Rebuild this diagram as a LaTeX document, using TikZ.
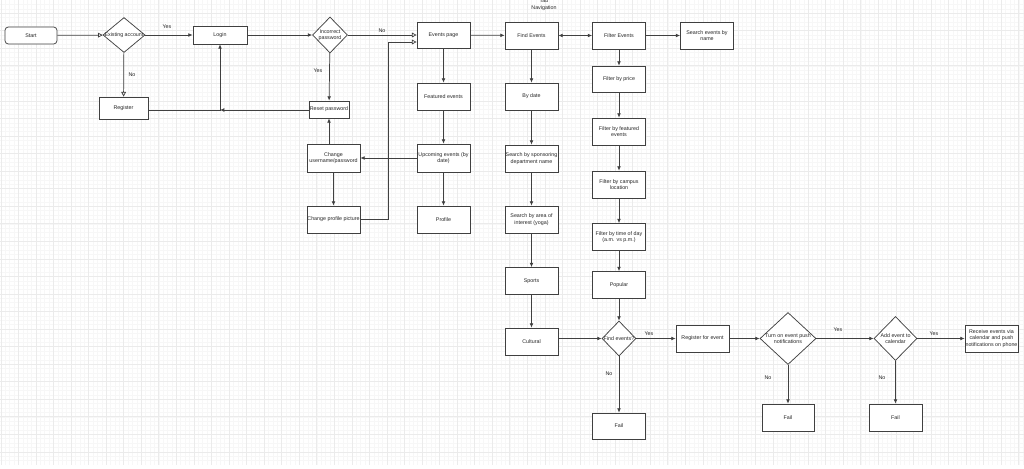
\documentclass[tikz,border=0pt]{standalone}
\usepackage{fontspec}
\setmainfont{Liberation Sans}
\usetikzlibrary{arrows.meta,shapes.geometric}
\begin{document}
\begin{tikzpicture}[x=0.75pt,y=-0.75pt,
  every node/.style={font=\fontsize{4}{4.9}\selectfont, text=black!85},
  box/.style={draw=black!75, line width=0.55pt, fill=white, rectangle, minimum width=39.75pt, minimum height=20.25pt, inner sep=0.5pt, align=center},
  dia/.style={draw=black!75, line width=0.55pt, fill=white, diamond, inner sep=0pt},
  lbl/.style={inner sep=0pt},
  arr/.style={draw=black!75, line width=0.55pt, -{Latex[length=3.2pt,width=2.8pt]}},
  oarr/.style={draw=black!75, line width=0.55pt, -{Triangle[open,length=3.5pt,width=3.5pt]}},
  darr/.style={draw=black!75, line width=0.55pt, {Latex[length=3.2pt,width=2.8pt]}-{Latex[length=3.2pt,width=2.8pt]}},
  minorgrid/.style={draw=gray!6, line width=0.3pt},
  majorgrid/.style={draw=gray!16, line width=0.4pt}
]
\useasboundingbox (0,0) rectangle (1024,468);
\fill[white] (0,0) rectangle (1024,468);
% grid
\foreach \k in {0,...,233} \draw[minorgrid] ({0.8+4.3875*\k},0) -- ({0.8+4.3875*\k},465);
\foreach \k in {0,...,104} \draw[minorgrid] (0,{4.325+4.3875*\k}) -- (1024,{4.325+4.3875*\k});
\foreach \k in {0,...,58} \draw[majorgrid] ({0.8+17.55*\k},0) -- ({0.8+17.55*\k},465);
\foreach \k in {0,...,25} \draw[majorgrid] (0,{13.1+17.55*\k}) -- (1024,{13.1+17.55*\k});

% nodes
\node[box, rounded corners=2.5pt, minimum width=39pt, minimum height=12.75pt] (start) at (31,35.5) {Start};
\node[dia, minimum width=31.5pt, minimum height=26.25pt, label={[align=center]center:Existing account}] (exist) at (124,35) {};
\node[box, minimum width=40.5pt, minimum height=13.5pt] (login) at (220,35) {Login};
\node[box, minimum width=36.75pt, minimum height=16.5pt] (register) at (123.5,108) {Register};
\node[dia, minimum width=26.25pt, minimum height=27pt, label={[align=center]center:{Incorrect\\password}}] (incorrect) at (330,35) {};
\node[box, minimum width=30pt, minimum height=12.75pt, inner sep=0pt] (reset) at (329,109.5) {Reset password};
\node[box, minimum height=19.5pt] (events) at (443.5,35) {Events page};
\node[box] (featured) at (443.5,96.5) {Featured events};
\node[box, minimum height=21pt] (upcoming) at (443.5,158) {Upcoming events (by\\date)};
\node[box] (profile) at (443.5,219.5) {Profile};
\node[box, minimum height=21pt] (changeuser) at (333.5,158) {Change\\username/password};
\node[box, inner sep=0pt] (changepic) at (333.5,219.5) {Change profile picture};
\node[lbl, align=center] (tabnav) at (544,4.5) {Tab\\Navigation};
\node[box] (find) at (531.5,35.5) {Find Events};
\node[box] (bydate) at (531.5,96.5) {By date};
\node[box] (sponsor) at (531.5,158.5) {Search by sponsoring\\department name};
\node[box] (interest) at (531.5,219.5) {Search by area of\\interest (yoga)};
\node[box] (sports) at (531.5,281) {Sports};
\node[box] (cultural) at (531.5,341.5) {Cultural};
\node[box] (filter) at (619,35.5) {Filter Events};
\node[box] (searchname) at (707,35.5) {Search events by\\name};
\node[box, minimum height=19.5pt] (price) at (619,79) {Filter by price};
\node[box] (featuredf) at (619,131.5) {Filter by featured\\events};
\node[box] (campus) at (619,184.5) {Filter by campus\\location};
\node[box] (timeday) at (619,237) {Filter by time of day\\(a.m. vs p.m.)};
\node[box] (popular) at (619,285) {Popular};
\node[dia, minimum width=25.5pt, minimum height=26.25pt, label={[align=center]center:Find events?}] (finddia) at (619,338.5) {};
\node[box, minimum height=19.5pt] (fail1) at (619,426) {Fail};
\node[box] (registerev) at (702.5,338.5) {Register for event};
\node[dia, minimum width=42pt, minimum height=39pt, label={[align=center]center:{Turn on event push\\notifications}}] (pushdia) at (788,338.5) {};
\node[box, minimum width=39pt] (fail2) at (788,417.5) {Fail};
\node[dia, minimum width=32.25pt, minimum height=33pt, label={[align=center]center:{Add event to\\calendar}}] (caldia) at (895.5,338.5) {};
\node[box] (fail3) at (895.5,417.5) {Fail};
\node[box, inner sep=0pt] (receive) at (991.5,338.5) {Receive events via\\calendar and push\\notifications on phone};

% labels
\node[lbl] (y1) at (167,27) {Yes};
\node[lbl] (n1) at (132,75) {No};
\node[lbl] (n2) at (382,31) {No};
\node[lbl] (y2) at (318,71) {Yes};
\node[lbl] (y3) at (649,334) {Yes};
\node[lbl] (n3) at (609,374) {No};
\node[lbl] (y4) at (838,330) {Yes};
\node[lbl] (y5) at (934,334) {Yes};
\node[lbl] (n4) at (768,378) {No};
\node[lbl] (n5) at (882,378) {No};

% connectors
\draw[oarr] (start) -- (exist);
\draw[arr] (exist) -- (login);
\draw[oarr] (exist) -- (register);
\draw[arr] (login) -- (incorrect);
\draw[oarr] (incorrect) -- (events);
\draw[arr] (incorrect) -- (reset);
\coordinate (j) at (220,110);
\draw[arr] (reset.west |- j) -- (j);
\draw[arr] (register.east |- j) -- (j) -- (login.south);
\draw[arr] (changeuser.north -| reset.south) -- (reset.south);
\draw[arr] (upcoming) -- (changeuser);
\draw[arr] (changeuser) -- (changepic);
\coordinate (k1) at (388,219.5);
\coordinate (k2) at (388,42);
\draw[oarr] (changepic.east) -- (k1) -- (k2) -- (events.west |- k2);
\draw[arr] (events) -- (featured);
\draw[arr] (featured) -- (upcoming);
\draw[arr] (upcoming) -- (profile);
\draw[arr] (events) -- (find);
\draw[darr] (find) -- (filter);
\draw[arr] (filter) -- (searchname);
\draw[arr] (find) -- (bydate);
\draw[arr] (bydate) -- (sponsor);
\draw[arr] (sponsor) -- (interest);
\draw[arr] (interest) -- (sports);
\draw[arr] (sports) -- (cultural);
\draw[arr] (filter) -- (price);
\draw[arr] (price) -- (featuredf);
\draw[arr] (featuredf) -- (campus);
\draw[arr] (campus) -- (timeday);
\draw[arr] (timeday) -- (popular);
\draw[arr] (popular) -- (finddia);
\draw[arr] (cultural.east |- finddia) -- (finddia.west);
\draw[arr] (finddia) -- (registerev);
\draw[arr] (finddia) -- (fail1);
\draw[arr] (registerev) -- (pushdia);
\draw[arr] (pushdia) -- (caldia);
\draw[arr] (pushdia) -- (fail2);
\draw[arr] (caldia) -- (receive);
\draw[arr] (caldia) -- (fail3);
\end{tikzpicture}
\end{document}
